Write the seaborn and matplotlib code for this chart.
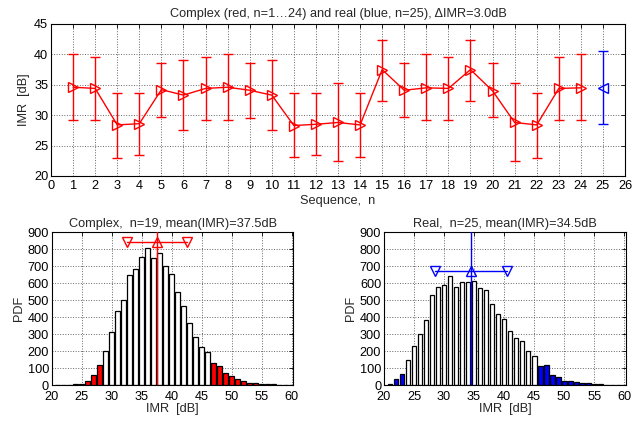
import numpy as np
import matplotlib
matplotlib.use('Agg')
import matplotlib.pyplot as plt
import seaborn as sns

# Top panel: IMR per sequence (complex n=1..24, real n=25)
seq_complex = list(range(1, 25))
imr_complex = [34.6, 34.4, 28.4, 28.6, 34.2, 33.3, 34.4, 34.6, 34.1, 33.3, 28.3, 28.5,
               28.8, 28.4, 37.5, 34.1, 34.5, 34.4, 37.5, 34.0, 28.8, 28.4, 34.4, 34.5]
imr_complex_lo = [29.2, 29.2, 23.0, 23.5, 29.7, 27.6, 29.2, 29.2, 29.6, 27.6, 23.1, 23.5,
                  22.4, 23.1, 32.4, 29.7, 29.2, 29.2, 32.4, 29.7, 22.4, 23.0, 29.2, 29.2]
imr_complex_hi = [40.0, 39.6, 33.7, 33.7, 38.6, 39.1, 39.6, 40.0, 38.6, 39.1, 33.6, 33.6,
                  35.3, 33.7, 42.4, 38.6, 40.0, 39.6, 42.4, 38.6, 35.3, 33.7, 39.6, 40.0]
seq_real = [25]
imr_real = [34.5]
imr_real_lo = [28.5]
imr_real_hi = [40.5]

# Bottom panels: IMR histograms (bin centres in dB)
bins = list(range(21, 61))
pdf_complex = [1, 2, 2, 3, 5, 25, 59, 116, 202, 312, 439, 502, 647, 682, 753, 806, 747, 779,
               704, 652, 551, 463, 363, 286, 224, 193, 128, 111, 70, 52, 35, 22, 11, 9, 8, 5,
               3, 2, 1, 1]
pdf_real = [8, 33, 65, 145, 230, 303, 383, 530, 576, 589, 641, 576, 607, 610, 614, 573, 563,
            475, 416, 391, 318, 275, 259, 202, 173, 112, 118, 59, 49, 26, 26, 16, 12, 10, 8, 3,
            2, 1, 1, 0]
complex_tails = (28.5, 46.5)
real_tails = (23.5, 45.5)
complex_stats = (37.5, 5.0, 845)   # mean, spread, marker height
real_stats = (34.5, 6.0, 675)

sns.set_theme(style='white')
plt.rcParams['font.family'] = ['Liberation Sans', 'DejaVu Sans']
plt.rcParams['font.size'] = 9
plt.rcParams['xtick.direction'] = 'in'
plt.rcParams['ytick.direction'] = 'in'
plt.rcParams['xtick.top'] = True
plt.rcParams['ytick.right'] = True
plt.rcParams['xtick.labelsize'] = 9.2
plt.rcParams['ytick.labelsize'] = 9.2
plt.rcParams['axes.edgecolor'] = 'black'
plt.rcParams['axes.linewidth'] = 0.8


def style_axes(ax, xpad=2):
    ax.grid(True, color='0.4', linestyle=':', linewidth=0.7)
    ax.tick_params(colors='black', length=3, width=0.6, pad=2)
    ax.tick_params(axis='x', pad=xpad)
    for s in ax.spines.values():
        s.set_visible(True)
        s.set_color('black')


fig = plt.figure(figsize=(6.33, 4.21), dpi=100)
ax_top = fig.add_axes([0.0806, 0.582, 0.9068, 0.361])
ax_l = fig.add_axes([0.0817, 0.0855, 0.3817, 0.3625])
ax_r = fig.add_axes([0.6066, 0.0855, 0.3823, 0.3625])

# ---- top panel
ax_top.errorbar(seq_complex, imr_complex,
                yerr=[np.array(imr_complex) - np.array(imr_complex_lo),
                      np.array(imr_complex_hi) - np.array(imr_complex)],
                fmt='none', ecolor='red', elinewidth=1.0, capsize=3.8, capthick=1.0)
sns.lineplot(x=seq_complex, y=imr_complex, ax=ax_top, color='red', linewidth=1.0,
             marker='>', markersize=7, markerfacecolor='none', markeredgecolor='red',
             markeredgewidth=1.0)
ax_top.errorbar(seq_real, imr_real,
                yerr=[np.array(imr_real) - np.array(imr_real_lo),
                      np.array(imr_real_hi) - np.array(imr_real)],
                fmt='<', color='blue', mfc='none', ms=7, mew=1.0, elinewidth=1.0,
                capsize=3.8, capthick=1.0)
ax_top.set_xlim(0, 26)
ax_top.set_ylim(20, 45)
ax_top.set_xticks(range(0, 27))
ax_top.set_yticks(range(20, 46, 5))
ax_top.set_title('Complex (red, n=1\u202624) and real (blue, n=25), \u0394IMR=3.0dB',
                 fontsize=9.2, pad=5)
ax_top.set_xlabel('Sequence,  n', fontsize=9.2, labelpad=2)
ax_top.set_ylabel('IMR  [dB]', fontsize=9.2, labelpad=3)
style_axes(ax_top, xpad=3)


def hist_panel(ax, pdf, tails, stats, color, title):
    flags = ['tail' if (b < tails[0] or b > tails[1]) else 'core' for b in bins]
    sns.barplot(x=bins, y=pdf, hue=flags, palette={'core': 'white', 'tail': color},
                native_scale=True, dodge=False, width=0.8, saturation=1,
                edgecolor='black', linewidth=0.9, errorbar=None, legend=False, ax=ax)
    mean, spread, h = stats
    ax.axvline(mean, color=color, linewidth=1.0, zorder=5)
    ax.plot([mean - spread, mean + spread], [h, h], color=color, linewidth=1.0, zorder=5)
    ax.plot([mean - spread, mean + spread], [h, h], linestyle='none', marker='v',
            ms=7, mfc='none', mec=color, mew=1.0, zorder=6)
    ax.plot([mean], [h], linestyle='none', marker='^', ms=7, mfc='none', mec=color,
            mew=1.0, zorder=6)
    ax.set_xlim(20, 60.3)
    ax.set_ylim(0, 900)
    ax.set_xticks(range(20, 61, 5))
    ax.set_xticklabels([str(v) for v in range(20, 61, 5)])
    ax.set_yticks(range(0, 901, 100))
    ax.set_title(title, fontsize=9.2, pad=4)
    ax.set_xlabel('IMR  [dB]', fontsize=9.2, labelpad=0)
    ax.set_ylabel('PDF', fontsize=9.2, labelpad=2)
    style_axes(ax, xpad=4.5)
    ax.set_axisbelow(True)


hist_panel(ax_l, pdf_complex, complex_tails, complex_stats, 'red',
           'Complex,  n=19, mean(IMR)=37.5dB')
hist_panel(ax_r, pdf_real, real_tails, real_stats, 'blue',
           'Real,  n=25, mean(IMR)=34.5dB')

fig.savefig('out.png', dpi=100)
